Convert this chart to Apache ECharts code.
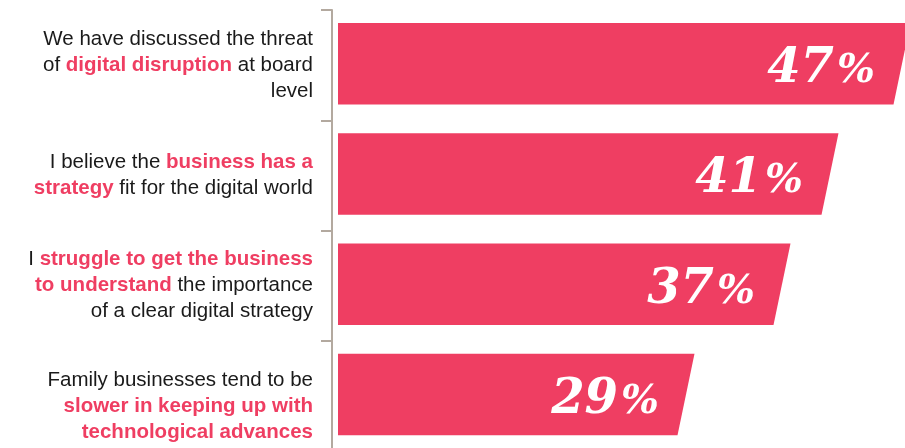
<!DOCTYPE html>
<html><head><meta charset="utf-8">
<script src="https://cdn.jsdelivr.net/npm/echarts@6/dist/echarts.min.js"></script>
<style>html,body{margin:0;padding:0;background:#fff}#c{width:905px;height:448px}</style>
</head><body><div id="c"></div>
<script>
const categories = [
  "We have discussed the threat\nof {h|digital disruption} at board\nlevel",
  "I believe the {h|business has a}\n{h|strategy} fit for the digital world",
  "I {h|struggle to get the business}\n{h|to understand} the importance\nof a clear digital strategy",
  "Family businesses tend to be\n{h|slower in keeping up with}\n{h|technological advances}"
];
const values = [47, 41, 37, 29];

const PINK = '#ef3e62';
const AXIS = '#b3a99f';
const LABEL_FONT = 'Liberation Sans, Arial, sans-serif';
const chart = echarts.init(document.getElementById('c'), null, {renderer: 'canvas'});
const numFont = {fontFamily: 'DejaVu Serif', fontWeight: 'bold', fontStyle: 'italic', fill: '#fff', color: '#fff'};
const lastIdx = categories.length - 1;
chart.setOption({
  animation: false,
  backgroundColor: '#fff',
  grid: {left: 332, top: 10, width: 570, height: 441, outerBoundsMode: 'none'},
  xAxis: {type: 'value', min: -0.5, max: 47, show: false},
  yAxis: {
    type: 'category', inverse: true,
    data: categories.map((c, i) => i === lastIdx ? {value: c, textStyle: {padding: [20, 0, 0, 0]}} : c),
    axisLine: {show: true, onZero: false, lineStyle: {color: AXIS, width: 2}},
    axisTick: {show: true, length: 11, lineStyle: {color: AXIS, width: 2}},
    axisLabel: {
      margin: 19, fontSize: 20.5, lineHeight: 26, color: '#1a1a1a',
      fontFamily: LABEL_FONT,
      rich: {h: {fontSize: 20.5, lineHeight: 26, color: PINK, fontWeight: 'bold', fontFamily: LABEL_FONT}}
    }
  },
  series: [{
    type: 'custom',
    clip: false,
    data: values.map((v, i) => [v, i]),
    encode: {x: 0, y: 1},
    renderItem: function (params, api) {
      const v = api.value(0), i = api.value(1);
      const p = api.coord([v, i]);
      const x0 = api.coord([0, i])[0];
      const h = 81.5, s = 8.5;
      const yc = p[1] - 1.5;
      return {
        type: 'group',
        children: [{
          type: 'polygon',
          shape: {points: [[x0, yc - h / 2], [p[0] + s, yc - h / 2], [p[0] - s, yc + h / 2], [x0, yc + h / 2]]},
          style: {fill: PINK}
        }, {
          type: 'text',
          style: {
            text: '{n|' + v + '}{p|%}',
            x: p[0] - 27, y: yc + 3, align: 'right', verticalAlign: 'middle',
            rich: {
              n: Object.assign({fontSize: 48, verticalAlign: 'bottom', lineHeight: 54}, numFont),
              p: Object.assign({fontSize: 40, verticalAlign: 'bottom', lineHeight: 54, padding: [0, 0, 2, 3]}, numFont)
            }
          }
        }]
      };
    }
  }]
});
</script></body></html>
